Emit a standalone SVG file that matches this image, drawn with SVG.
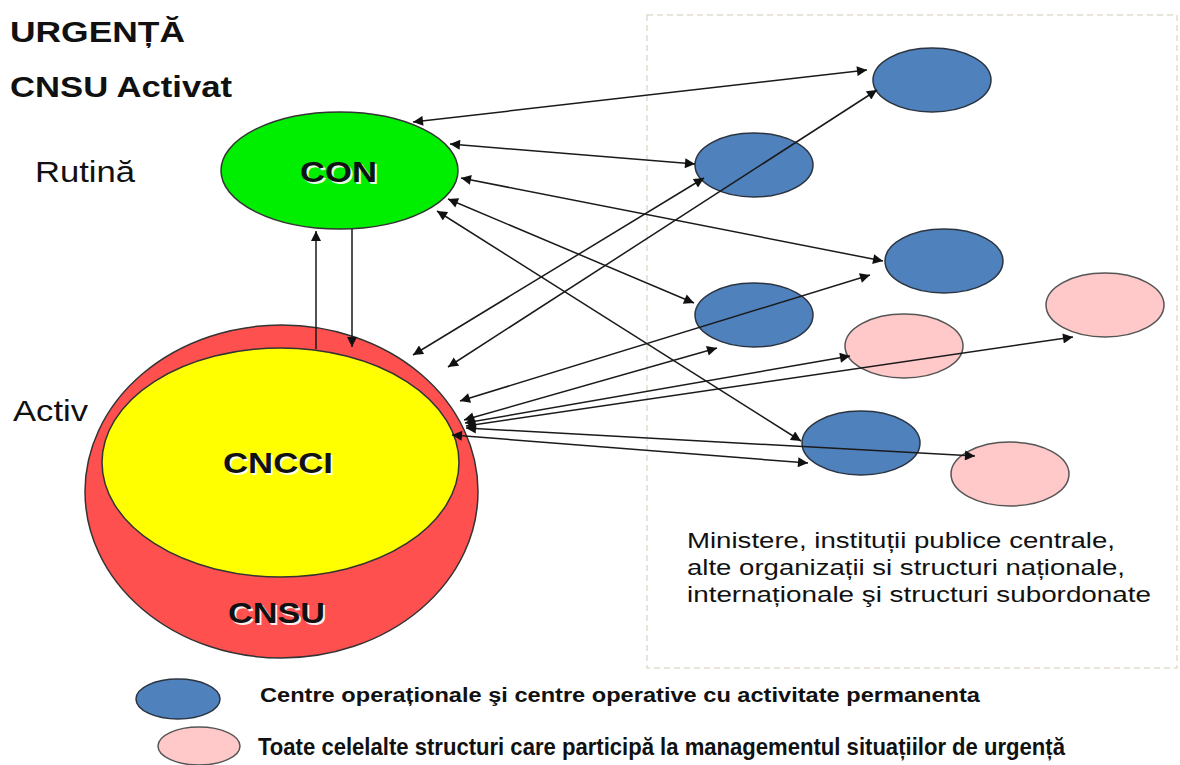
<svg xmlns="http://www.w3.org/2000/svg" width="1180" height="765" viewBox="0 0 1180 765">
<style>
.t{font-family:"Liberation Sans",Arial,sans-serif;fill:#111}
.b{font-weight:bold}
.sh{fill:#ffffff;opacity:0.9}
.blue{fill:#4f81bd;stroke:#2b3440;stroke-width:1.5}
.pink{fill:#ffc9c9;stroke:#555;stroke-width:1.5}
.c{stroke:#1a1a1a;stroke-width:1.5;fill:none}
.dd{marker-start:url(#ah);marker-end:url(#ah)}
.se{marker-end:url(#ah)}
.narrow{font-family:"Liberation Sans Narrow","Liberation Sans",Arial,sans-serif;font-weight:bold;fill:#111}
</style>
<defs>
<marker id="ah" viewBox="0 0 10 10" refX="10" refY="5" markerUnits="userSpaceOnUse" markerWidth="13" markerHeight="10" orient="auto-start-reverse">
<path d="M0,0 L10,5 L0,10 z" fill="#111"/>
</marker>
</defs>
<rect width="1180" height="765" fill="#ffffff"/>
<rect id="frame" x="647" y="15" width="530" height="653" fill="none" stroke="#e2ddd0" stroke-width="1.5" stroke-dasharray="6 4"/>

<g id="titles">
<text class="t b" x="10" y="42" font-size="29" textLength="175" lengthAdjust="spacingAndGlyphs">URGENȚĂ</text>
<text class="t b" x="10" y="97" font-size="29" textLength="222" lengthAdjust="spacingAndGlyphs">CNSU Activat</text>
<text class="t" x="35" y="182" font-size="30" textLength="100" lengthAdjust="spacingAndGlyphs">Rutină</text>
<text class="t" x="13" y="421" font-size="30" textLength="75" lengthAdjust="spacingAndGlyphs">Activ</text>
</g>

<g id="CNSU">
<ellipse cx="281.5" cy="491.5" rx="196.5" ry="166.5" fill="#ff5050" stroke="#333" stroke-width="1.5"/>
<text class="t b sh" x="278.5" y="625" font-size="29" text-anchor="middle" textLength="97" lengthAdjust="spacingAndGlyphs">CNSU</text>
<text class="t b" x="276.5" y="623" font-size="29" text-anchor="middle" textLength="97" lengthAdjust="spacingAndGlyphs">CNSU</text>
</g>
<g id="CNCCI">
<ellipse cx="280.5" cy="462.5" rx="178.5" ry="114.5" fill="#ffff00" stroke="#333" stroke-width="1.5"/>
<text class="t b sh" x="280" y="475" font-size="29" text-anchor="middle" textLength="110" lengthAdjust="spacingAndGlyphs">CNCCI</text>
<text class="t b" x="278" y="473" font-size="29" text-anchor="middle" textLength="110" lengthAdjust="spacingAndGlyphs">CNCCI</text>
</g>
<g id="CON">
<ellipse cx="339.5" cy="170.5" rx="118.5" ry="58.5" fill="#00ee00" stroke="#333" stroke-width="1.5"/>
<text class="t b sh" x="340.5" y="184" font-size="29" text-anchor="middle" textLength="77" lengthAdjust="spacingAndGlyphs">CON</text>
<text class="t b" x="338.5" y="182" font-size="29" text-anchor="middle" textLength="77" lengthAdjust="spacingAndGlyphs">CON</text>
</g>

<g id="B1"><ellipse class="blue" cx="932" cy="80" rx="59" ry="32"/></g>
<g id="B2"><ellipse class="blue" cx="754" cy="165" rx="59" ry="32"/></g>
<g id="B3"><ellipse class="blue" cx="944" cy="261" rx="59" ry="32"/></g>
<g id="B4"><ellipse class="blue" cx="754" cy="315" rx="59" ry="32"/></g>
<g id="P1"><ellipse class="pink" cx="904" cy="346" rx="59" ry="32"/></g>
<g id="P2"><ellipse class="pink" cx="1105" cy="305" rx="59" ry="32"/></g>
<g id="B5"><ellipse class="blue" cx="861" cy="443" rx="59" ry="32"/></g>
<g id="P3"><ellipse class="pink" cx="1010" cy="474" rx="59" ry="32"/></g>

<g id="connectors">
<line class="c dd" x1="413" y1="122" x2="867" y2="70"/>
<line class="c dd" x1="450" y1="144" x2="695" y2="164"/>
<line class="c dd" x1="461" y1="178" x2="883" y2="261"/>
<line class="c dd" x1="448" y1="199" x2="694" y2="303"/>
<line class="c dd" x1="437" y1="211" x2="801" y2="441"/>
<line class="c se" x1="316" y1="349" x2="316" y2="231"/>
<line class="c se" x1="352" y1="229" x2="352" y2="347"/>
<line class="c dd" x1="413" y1="355" x2="704" y2="178"/>
<line class="c dd" x1="448" y1="367" x2="877" y2="90"/>
<line class="c dd" x1="460" y1="401" x2="870" y2="275"/>
<line class="c dd" x1="464" y1="420" x2="717" y2="348"/>
<line class="c dd" x1="465" y1="423" x2="850" y2="356"/>
<line class="c dd" x1="466" y1="426" x2="1073" y2="337"/>
<line class="c dd" x1="466" y1="428" x2="975" y2="456"/>
<line class="c dd" x1="452" y1="435" x2="808" y2="463"/>
</g>

<g id="description">
<text class="t" font-size="22" fill="#111">
<tspan x="687" y="548" textLength="428" lengthAdjust="spacingAndGlyphs">Ministere, instituții publice centrale,</tspan>
<tspan x="687" y="575" textLength="438" lengthAdjust="spacingAndGlyphs">alte organizații si structuri naționale,</tspan>
<tspan x="687" y="602" textLength="464" lengthAdjust="spacingAndGlyphs">internaționale şi structuri subordonate</tspan>
</text>
</g>

<g id="legend">
<ellipse class="blue" cx="178" cy="699" rx="42" ry="20"/>
<text class="narrow" x="260" y="702" font-size="20" textLength="720" lengthAdjust="spacingAndGlyphs">Centre operaționale şi centre operative cu activitate permanenta</text>
<ellipse class="pink" cx="199" cy="746" rx="41" ry="19"/>
<text class="narrow" x="258" y="755" font-size="24" textLength="807" lengthAdjust="spacingAndGlyphs">Toate celelalte structuri care participă la managementul situațiilor de urgență</text>
</g>
</svg>
